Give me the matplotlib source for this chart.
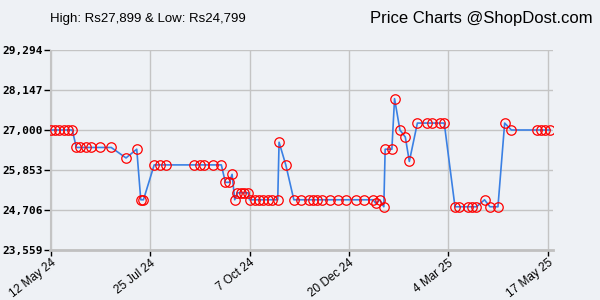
import pandas as pd
import matplotlib
matplotlib.use("Agg")
import matplotlib.pyplot as plt

# price history
dates = [
    "2024-05-12", "2024-05-15", "2024-05-18", "2024-05-22", "2024-05-25", "2024-05-28",
    "2024-05-31", "2024-06-03", "2024-06-07", "2024-06-11", "2024-06-18", "2024-06-26",
    "2024-07-07", "2024-07-15", "2024-07-18", "2024-07-20",
    "2024-07-28", "2024-08-01", "2024-08-06", "2024-08-27", "2024-08-31", "2024-09-03",
    "2024-09-10", "2024-09-16",
    "2024-09-19", "2024-09-22", "2024-09-24", "2024-09-26",
    "2024-09-28", "2024-10-01", "2024-10-03", "2024-10-06",
    "2024-10-07", "2024-10-11", "2024-10-14", "2024-10-17", "2024-10-21", "2024-10-24",
    "2024-10-28", "2024-10-29", "2024-11-03",
    "2024-11-09", "2024-11-14", "2024-11-20", "2024-11-23", "2024-11-26", "2024-11-30",
    "2024-12-06", "2024-12-12", "2024-12-18", "2024-12-25", "2024-12-31", "2025-01-07",
    "2025-01-09", "2025-01-12", "2025-01-15", "2025-01-16", "2025-01-21", "2025-01-23",
    "2025-01-27", "2025-01-31", "2025-02-03",
    "2025-02-09", "2025-02-16", "2025-02-20", "2025-02-26", "2025-03-01",
    "2025-03-09", "2025-03-12", "2025-03-19", "2025-03-22", "2025-03-25",
    "2025-03-31", "2025-04-04", "2025-04-10", "2025-04-15",
    "2025-04-20", "2025-05-09", "2025-05-12", "2025-05-15", "2025-05-19",
]
prices = [
    27000, 27000, 27000, 27000, 27000, 27000,
    26499, 26499, 26499, 26499, 26499, 26499,
    26199, 26449, 24999, 24999,
    25999, 25999, 25999, 25999, 25999, 25999,
    25999, 25999,
    25499, 25499, 25729, 24999,
    25199, 25199, 25199, 25199,
    24999, 24999, 24999, 24999, 24999, 24999,
    24999, 26649, 25999,
    24999, 24999, 24999, 24999, 24999, 24999,
    24999, 24999, 24999, 24999, 24999, 24999,
    24899, 24999, 24799, 26449, 26449, 27899,
    27000, 26799, 26099,
    27199, 27199, 27199, 27199, 27199,
    24799, 24799, 24799, 24799, 24799,
    24999, 24799, 24799, 27199,
    27000, 27000, 27000, 27000, 27000,
]

y_ticks = [23559, 24706, 25853, 27000, 28147, 29294]
x_tick_dates = ["2024-05-12", "2024-07-25", "2024-10-07", "2024-12-20", "2025-03-04", "2025-05-17"]
x_tick_labels = ["12 May 24", "25 Jul 24", "7 Oct 24", "20 Dec 24", "4 Mar 25", "17 May 25"]

bg = "#eef1f5"
x = pd.to_datetime(dates)

fig = plt.figure(figsize=(6, 3), dpi=100, facecolor=bg)
ax = fig.add_axes([50 / 600, 50 / 300, 503 / 600, 200 / 300], facecolor=bg)

ax.plot(x, prices, color="#3a80e4", lw=1.2, zorder=3)
ax.plot(x, prices, ls="none", marker="o", ms=6.8, mfc="none", mec="#ff0000", mew=0.9, zorder=4)

ax.set_ylim(y_ticks[0], y_ticks[-1])
ax.set_xlim(pd.Timestamp("2024-05-12") - pd.Timedelta(days=0.6), pd.Timestamp("2025-05-21"))

ax.set_yticks(y_ticks)
ax.set_yticklabels([f"{v:,}" for v in y_ticks], fontfamily="DejaVu Sans Mono",
                   fontweight="bold", fontsize=8)
ax.set_xticks(pd.to_datetime(x_tick_dates))
ax.set_xticklabels(x_tick_labels, rotation=38, ha="right", rotation_mode="anchor",
                   fontfamily="Liberation Sans", fontsize=8.5)

ax.grid(True, color="#c4c4c4", lw=1)
ax.set_axisbelow(True)
ax.tick_params(axis="y", length=4, width=1, color="black", pad=1)
ax.tick_params(axis="x", length=4, width=1, color="black", pad=1)
for s in ["top", "right"]:
    ax.spines[s].set_visible(False)
ax.spines["left"].set_color("#c4c4c4")
ax.spines["bottom"].set_color("#c0c0c0")
ax.spines["bottom"].set_linewidth(2)

fig.text(50 / 600, 1 - 19 / 300, "High: Rs27,899 & Low: Rs24,799", ha="left", va="center",
         fontfamily="Liberation Sans", fontsize=9.5)
fig.text(593 / 600, 1 - 19 / 300, "Price Charts @ShopDost.com", ha="right", va="center",
         fontfamily="Liberation Sans", fontsize=12)

fig.savefig("out.png", dpi=100, facecolor=bg)
